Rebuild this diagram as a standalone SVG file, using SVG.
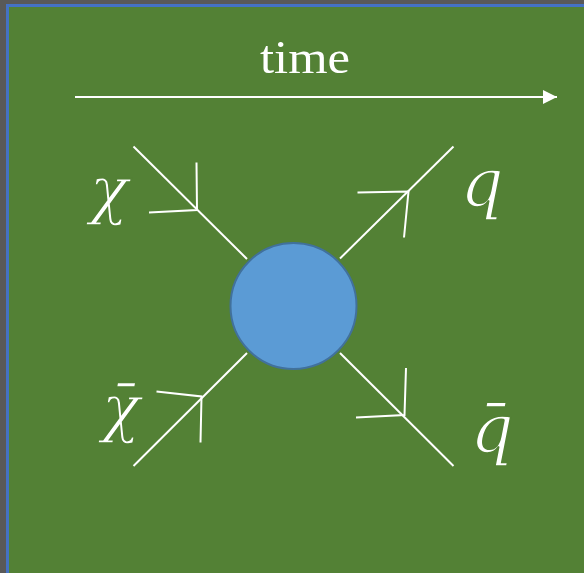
<svg xmlns="http://www.w3.org/2000/svg" width="584" height="573" viewBox="0 0 584 573">
  <defs>
    <style>
      .ln { stroke: #ffffff; stroke-width: 2; fill: none; stroke-linecap: butt; }
      .lbl { fill: #ffffff; font-family: 'DejaVu Serif', 'Liberation Serif', serif; font-style: italic; font-weight: normal; stroke: #538135; stroke-width: 1.6; }
    </style>
    <marker id="arrow" viewBox="0 0 10 10" refX="10" refY="5" markerWidth="8" markerHeight="7" markerUnits="strokeWidth" orient="auto">
      <path d="M0,0 L10,5 L0,10 Z" fill="#ffffff"/>
    </marker>
  </defs>
  <rect x="0" y="0" width="584" height="573" fill="#595959"/>
  <rect x="7.5" y="5.5" width="590" height="590" fill="#538135" stroke="#4472C4" stroke-width="3"/>

  <g id="time-axis">
    <text x="305" y="73" font-family="Liberation Serif, serif" font-size="46" fill="#ffffff" text-anchor="middle" textLength="90" lengthAdjust="spacingAndGlyphs">time</text>
    <line class="ln" x1="75" y1="97" x2="557" y2="97" marker-end="url(#arrow)"/>
  </g>

  <g id="connectors">
    <g id="chi-in">
      <line class="ln" x1="133.5" y1="146.5" x2="247" y2="259"/>
      <polyline class="ln" points="149,212.5 197,210 196.5,162.5"/>
    </g>
    <g id="q-out">
      <line class="ln" x1="340" y1="258.5" x2="453.5" y2="146.5"/>
      <polyline class="ln" points="357.5,192.5 408.5,191.5 404,237.5"/>
    </g>
    <g id="chibar-in">
      <line class="ln" x1="133.5" y1="466" x2="247" y2="353"/>
      <polyline class="ln" points="156.5,391.5 201.5,396.5 200.5,442.5"/>
    </g>
    <g id="qbar-out">
      <line class="ln" x1="340" y1="353" x2="453.5" y2="466"/>
      <polyline class="ln" points="356,417.5 404.5,415 406,368"/>
    </g>
  </g>

  <g id="vertex">
    <circle cx="293.5" cy="306" r="63" fill="#5B9BD5" stroke="#41719C" stroke-width="2"/>
  </g>

  <g id="label-chi">
    <text class="lbl" x="109" y="212" font-size="64" text-anchor="middle">χ</text>
  </g>
  <g id="label-q">
    <text class="lbl" x="482" y="206" font-size="68" text-anchor="middle">q</text>
  </g>
  <g id="label-chibar">
    <text class="lbl" x="121" y="430" font-size="64" text-anchor="middle">χ̄</text>
  </g>
  <g id="label-qbar">
    <text class="lbl" x="492" y="452" font-size="68" text-anchor="middle">q̄</text>
  </g>
</svg>
